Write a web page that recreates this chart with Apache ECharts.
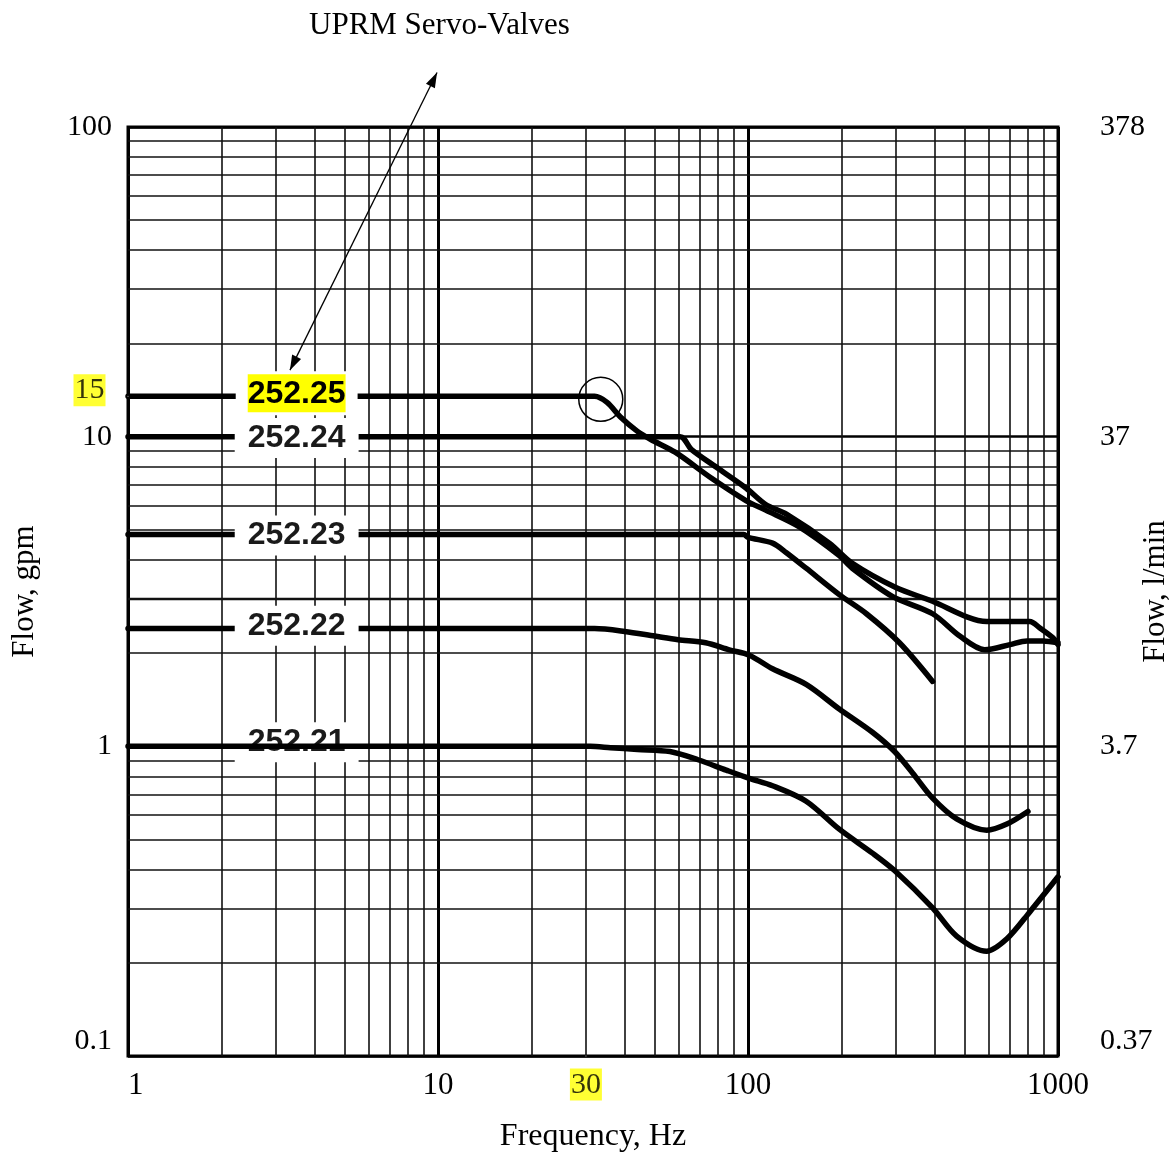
<!DOCTYPE html>
<html>
<head>
<meta charset="utf-8">
<script src="https://cdn.jsdelivr.net/npm/echarts@6/dist/echarts.min.js"></script>
<style>
html, body { margin: 0; padding: 0; background: #fff; }
#chart { width: 1171px; height: 1152px; }
</style>
</head>
<body>
<div id="chart"></div>
<script>
// tick labels
var flowTickLabels = ['0.1', '1', '10', '100'];
var litreTickLabels = ['0.37', '3.7', '37', '378'];
// minor grid lines (log paper)
var freqMinor = [2, 3, 4, 5, 6, 7, 8, 9, 20, 30, 40, 50, 60, 70, 80, 90, 200, 300, 400, 500, 600, 700, 800, 900];
var flowMinor = [0.2, 0.3, 0.4, 0.5, 0.6, 0.7, 0.8, 0.9, 2, 3, 4, 5, 6, 7, 8, 9, 20, 30, 40, 50, 60, 70, 80, 90];

// curves: [frequency Hz, flow gpm]
var valve21 = [[1, 1.0], [31, 1.0], [36, 0.99], [44, 0.977], [56, 0.962], [69, 0.905], [85, 0.838], [101, 0.788],
  [120, 0.746], [154, 0.665], [197, 0.54], [252, 0.452], [297, 0.397], [394, 0.301], [471, 0.244], [589, 0.218],
  [684, 0.239], [811, 0.292], [1000, 0.379]];
var valve22 = [[1, 2.4], [32, 2.4], [40, 2.35], [50, 2.27], [59.5, 2.21], [73, 2.16], [87, 2.05], [101, 1.97],
  [120, 1.78], [154, 1.585], [197, 1.32], [252, 1.11], [297, 0.962], [340, 0.819], [394, 0.68], [471, 0.583],
  [589, 0.536], [684, 0.561], [800, 0.616]];
var valve23 = [[1, 4.83], [97, 4.83], [100, 4.73], [120, 4.53], [133, 4.22], [154, 3.76], [197, 3.09], [241, 2.68],
  [308, 2.16], [394, 1.62]];
var valve24 = [[1, 10], [60.4, 10], [65.6, 9.1], [80.4, 7.88], [98.5, 6.83], [114, 6.04], [133, 5.62], [183, 4.53],
  [217, 3.9], [301, 3.25], [394, 2.94], [508, 2.62], [589, 2.53], [811, 2.53], [874, 2.41], [963, 2.24], [1000, 2.13]];
var valve25 = [[1, 13.5], [32, 13.5], [35.1, 12.9], [38.7, 11.6], [44, 10.4], [48.6, 9.79], [58.2, 8.91], [76.3, 7.34],
  [98.5, 6.22], [114, 5.79], [146, 5.12], [197, 4.13], [217, 3.76], [292, 3.05], [394, 2.68], [482, 2.27],
  [580, 2.05], [700, 2.13], [794, 2.19], [894, 2.19], [1000, 2.16]];

var valveNames = ['252.21', '252.22', '252.23', '252.24', '252.25'];
var labelFreq = 3.5;
var labelFlow = [1.03, 2.45, 4.8, 9.9, 13.8];

// highlighted values and annotations
var highlightFlow = [1, 13.5, '15'];
var highlightFreq = [30, 0.1, '30'];
var kneeMark = [33.5, 13.2];
var arrowFrom = [9.93, 150];
var arrowTo = [3.33, 16.4];

var serif = '"Liberation Serif", "Times New Roman", serif';
var sans = '"Liberation Sans", Arial, sans-serif';

var myChart = echarts.init(document.getElementById('chart'));

function curveSeries(name, data, z) {
	return {
		name: name,
		type: 'line',
		data: data,
		z: z,
		symbol: 'none',
		smooth: 0.3,
		lineStyle: { color: '#000', width: 5.5, cap: 'round', join: 'round' },
		silent: true
	};
}

// label boxes on the curves
var labelData = [];
for (var i = 0; i < valveNames.length; i++) {
	var item = { value: [labelFreq, labelFlow[i]], label: { formatter: valveNames[i] } };
	if (i == 4) {
		item.label = {
			formatter: '{h|' + valveNames[i] + '}',
			padding: [3, 12],
			rich: { h: { backgroundColor: '#ffff00', color: '#000', fontFamily: sans, fontSize: 32, fontWeight: 'bold', padding: [4, 0, 2, 0] } }
		};
	}
	labelData.push(item);
}

var gridLines = [];
freqMinor.forEach(function(f) { gridLines.push({ xAxis: f }); });
flowMinor.forEach(function(v) {
	gridLines.push(v == 3 ? { yAxis: v, lineStyle: { width: 2.3 } } : { yAxis: v });
});

var option = {
	animation: false,
	backgroundColor: '#fff',
	title: {
		text: 'UPRM Servo-Valves',
		left: 304,
		top: 5,
		textStyle: { fontFamily: serif, fontSize: 31, fontWeight: 'normal', color: '#000' }
	},
	grid: {
		left: 128, right: 113, top: 127, bottom: 96,
		outerBoundsMode: 'none',
		containLabel: false,
		show: true, borderColor: '#000', borderWidth: 3, backgroundColor: '#fff'
	},
	xAxis: {
		type: 'log',
		logBase: 10,
		min: 1,
		max: 1000,
		name: 'Frequency, Hz',
		nameLocation: 'middle',
		nameGap: 65,
		nameMoveOverlap: false,
		nameTextStyle: { fontFamily: serif, fontSize: 32, color: '#000' },
		axisLine: { show: false },
		axisTick: { show: false },
		axisLabel: {
			fontFamily: serif, fontSize: 31, color: '#000', margin: 14, alignMinLabel: 'left',
			formatter: function(v) { return String(Math.round(v)); }
		},
		splitLine: { show: true, lineStyle: { color: '#000', width: 3 } }
	},
	yAxis: [{
		type: 'log',
		logBase: 10,
		min: 0.1,
		max: 100,
		name: 'Flow, gpm',
		nameLocation: 'middle',
		nameRotate: 90,
		nameGap: 88,
		nameMoveOverlap: false,
		nameTextStyle: { fontFamily: serif, fontSize: 31, color: '#000' },
		axisLine: { show: false },
		axisTick: { show: false },
		axisLabel: {
			fontFamily: serif, fontSize: 30, color: '#000', margin: 16, verticalAlignMinLabel: 'bottom',
			formatter: function(v) { return flowTickLabels[Math.round(Math.log10(v)) + 1]; }
		},
		splitLine: { show: true, lineStyle: { color: '#000', width: 2.6 } }
	}, {
		type: 'log',
		logBase: 10,
		min: 0.1,
		max: 100,
		position: 'right',
		name: 'Flow, l/min',
		nameLocation: 'middle',
		nameRotate: 90,
		nameGap: 82,
		nameMoveOverlap: false,
		nameTextStyle: { fontFamily: serif, fontSize: 31, color: '#000' },
		axisLine: { show: false },
		axisTick: { show: false },
		axisLabel: {
			fontFamily: serif, fontSize: 30, color: '#000', margin: 42, verticalAlignMinLabel: 'bottom',
			formatter: function(v) { return litreTickLabels[Math.round(Math.log10(v)) + 1]; }
		},
		splitLine: { show: false }
	}],
	series: [
		{
			name: 'paper',
			type: 'line',
			data: [],
			silent: true,
			markLine: {
				z: 1,
				silent: true,
				symbol: 'none',
				animation: false,
				label: { show: false },
				lineStyle: { color: '#111', width: 1.6, type: 'solid' },
				data: gridLines
			}
		},
		curveSeries(valveNames[1], valve22, 2),
		curveSeries(valveNames[2], valve23, 2),
		curveSeries(valveNames[3], valve24, 2),
		curveSeries(valveNames[4], valve25, 2),
		{
			name: 'labels',
			type: 'scatter',
			z: 3,
			silent: true,
			symbolSize: 1,
			itemStyle: { color: '#fff', opacity: 1 },
			label: {
				show: true,
				position: 'inside',
				backgroundColor: '#fff',
				padding: [4, 13],
				fontFamily: sans,
				fontSize: 32,
				fontWeight: 'bold',
				color: '#1a1a1a',
				opacity: 1,
				textBorderWidth: 0,
				textBorderColor: 'transparent'
			},
			data: labelData
		},
		curveSeries(valveNames[0], valve21, 4),
		{
			name: 'highlights',
			type: 'scatter',
			z: 5,
			silent: true,
			clip: false,
			symbolSize: 1,
			itemStyle: { color: '#fff' },
			label: { show: true, fontFamily: serif, fontSize: 30, color: '#000', backgroundColor: '#ffff00', padding: [2, 1, 0, 1] },
			data: [
				{ value: highlightFlow.slice(0, 2), label: { formatter: highlightFlow[2], position: 'left', distance: 22, offset: [0, -6] } },
				{ value: highlightFreq.slice(0, 2), label: { formatter: highlightFreq[2], position: 'bottom', distance: 12 } }
			]
		},
		{
			name: 'annotation',
			type: 'line',
			data: [],
			clip: false,
			silent: true,
			markPoint: {
				silent: true,
				symbol: 'circle',
				symbolSize: 44,
				label: { show: false },
				itemStyle: { color: 'rgba(0,0,0,0)', borderColor: '#000', borderWidth: 1.5 },
				data: [{ coord: kneeMark }]
			}
		}
	]
};

myChart.setOption(option);

// double headed arrow pointing at the 252.25 label, placed through the axes
function arrowHead(tip, tail) {
	var dx = tip[0] - tail[0], dy = tip[1] - tail[1];
	var len = Math.sqrt(dx * dx + dy * dy);
	var ux = dx / len, uy = dy / len;
	var bx = tip[0] - ux * 15, by = tip[1] - uy * 15;
	return [[tip[0], tip[1]], [bx - uy * 5, by + ux * 5], [bx + uy * 5, by - ux * 5]];
}
var p1 = myChart.convertToPixel({ gridIndex: 0 }, arrowFrom);
var p2 = myChart.convertToPixel({ gridIndex: 0 }, arrowTo);
myChart.setOption({
	graphic: [
		{ type: 'line', silent: true, z: 10, shape: { x1: p1[0], y1: p1[1], x2: p2[0], y2: p2[1] }, style: { stroke: '#000', lineWidth: 1.3 } },
		{ type: 'polygon', silent: true, z: 10, shape: { points: arrowHead(p1, p2) }, style: { fill: '#000' } },
		{ type: 'polygon', silent: true, z: 10, shape: { points: arrowHead(p2, p1) }, style: { fill: '#000' } }
	]
});
</script>
</body>
</html>
